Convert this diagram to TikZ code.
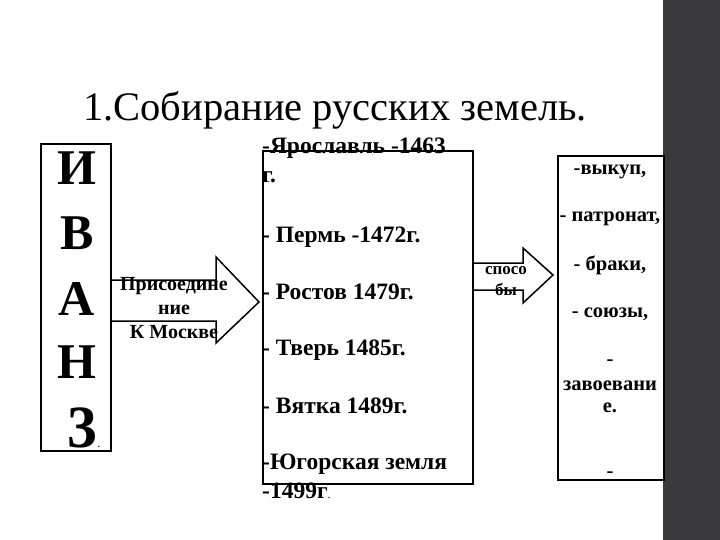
\documentclass[tikz,border=0pt]{standalone}
\usepackage{fontspec}
\setmainfont{Liberation Serif}
\usepackage{tikz}
\usetikzlibrary{positioning}
\definecolor{sidegray}{RGB}{58, 58, 60}

\begin{document}
\begin{tikzpicture}[
    x=1pt, y=-1pt,
    box/.style={rectangle, draw=black, line width=2pt, fill=white, inner sep=0pt},
    letter/.style={font=\bfseries\fontsize{50}{50}\selectfont, inner sep=0pt},
    town/.style={font=\bfseries\fontsize{23.5}{23.5}\selectfont, inner sep=0pt, anchor=base west},
    way/.style={font=\bfseries\fontsize{20.5}{20.5}\selectfont, inner sep=0pt, anchor=base},
    fatarrow/.style={draw=black, line width=1.5pt, fill=white, line join=miter},
    label/.style={font=\bfseries\fontsize{20}{24}\selectfont, align=center, inner sep=0pt}
]
\useasboundingbox (0,0) rectangle (720,540);

% side strip
\fill[sidegray] (663,0) rectangle (720,540);

% title
\node[font=\fontsize{40.5}{40.5}\selectfont, anchor=base, inner sep=0pt] (title) at (335,121)
    {1.Собирание русских земель.};

% Ivan III
\node[box, minimum width=70pt, minimum height=307pt] (ivan) at (76,297.5) {};
\foreach \l/\y [count=\i] in {И/185, В/249, А/315, Н/378}
    \node[letter, anchor=base] (let\i) at (77,\y) {\l};
\node[letter, font=\bfseries\fontsize{60}{60}\selectfont, anchor=base] (num) at (82,447) {3};
\node[anchor=base west, inner sep=0pt, font=\fontsize{12}{12}\selectfont] (numdot) at (num.base east) {.};

% lands
\node[box, minimum width=210pt, minimum height=333pt] (towns) at (368,317.5) {};
\foreach \t/\y [count=\i] in {{-Ярославль -1463}/154, {г.}/183, {- Пермь -1472г.}/242,
        {- Ростов 1479г.}/299, {- Тверь 1485г.}/355, {- Вятка 1489г.}/413,
        {-Югорская земля}/469}
    \node[town] (town\i) at (262,\y) {\t};
\node[town] (town8) at (262,498) {-1499г{\mdseries\fontsize{12}{12}\selectfont.}};

% ways
\node[box, minimum width=106pt, minimum height=324pt] (ways) at (611,318) {};
\foreach \t/\y [count=\i] in {{-выкуп,}/175, {- патронат,}/222, {- браки,}/270,
        {- союзы,}/317, {-}/365, {завоевани}/390, {е.}/412, {-}/477}
    \node[way] (way\i) at (610,\y) {\t};

% arrows
\draw[fatarrow] (ivan.east |- 0,280) -- (216,280) -- (216,257) -- (259,302)
    -- (216,343) -- (216,321) -- (ivan.east |- 0,321);
\node[label] (join) at (174,308) {Присоедине\\ние\\К Москве};

\draw[fatarrow] (towns.east |- 0,263) -- (523,263) -- (523,248) -- (553,275)
    -- (523,303) -- (523,290) -- (towns.east |- 0,290);
\node[label, font=\bfseries\fontsize{17}{21}\selectfont] (means) at (506,281) {спосо\\бы};

\end{tikzpicture}
\end{document}
